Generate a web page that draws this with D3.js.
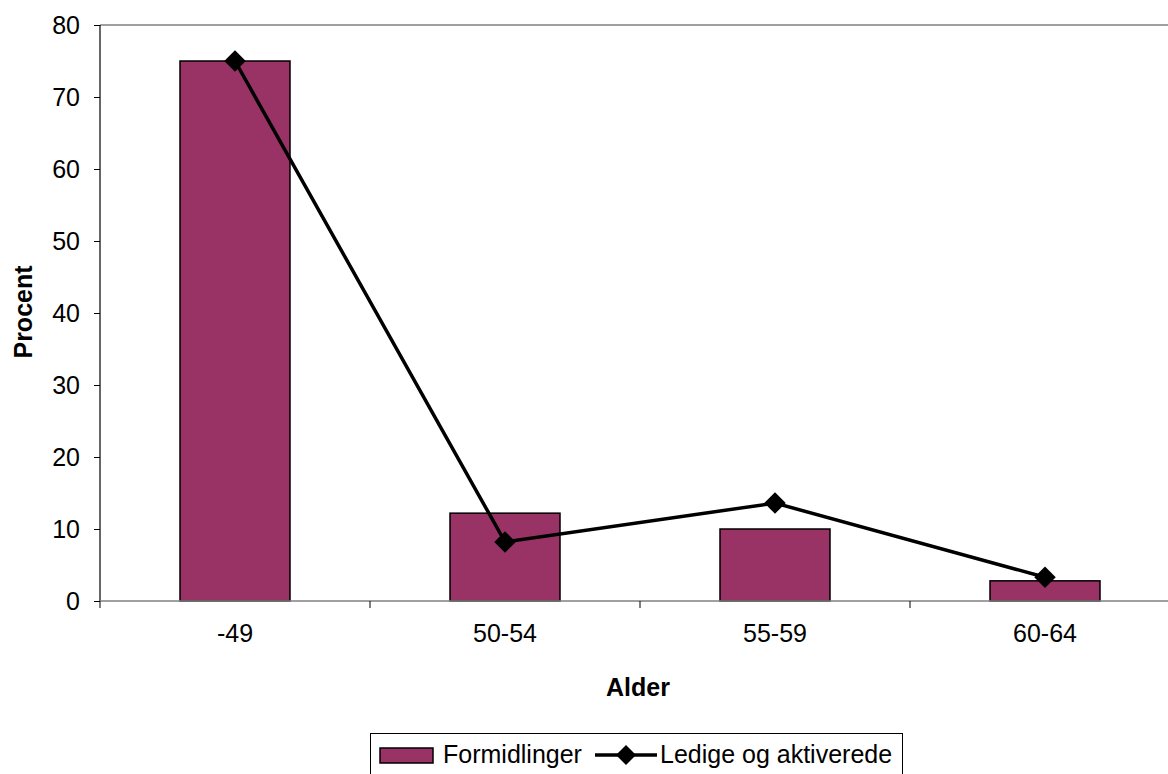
<!DOCTYPE html>
<html><head><meta charset="utf-8">
<script src="https://cdn.jsdelivr.net/npm/d3@7"></script>
<style>html,body{margin:0;padding:0;background:#fff;}svg{display:block;font-family:"Liberation Sans",Arial,sans-serif;}</style>
</head><body>
<svg id="c" width="1168" height="774"></svg>
<script>
const categories = ["-49", "50-54", "55-59", "60-64"];
const formidlinger = [75, 12.2, 10, 2.8];
const ledige = [75, 8.2, 13.6, 3.3];
const yTicks = [0, 10, 20, 30, 40, 50, 60, 70, 80];
const seriesNames = ["Formidlinger", "Ledige og aktiverede"];

(function () {
const FS = 25;
const svg = d3.select("#c");
const pL = 100, pR = 1180, pT = 25, pB = 601;
const xb = d3.scaleBand().domain(categories).range([pL, pR]);
const y = d3.scaleLinear().domain([0, 80]).range([pB, pT]);
const barW = 110, barOff = (xb.bandwidth() - barW) / 2;

// top border
svg.append("line").attr("x1", pL).attr("x2", 1168).attr("y1", pT).attr("y2", pT)
  .attr("stroke", "#808080").attr("stroke-width", 1.5);

// bars
svg.selectAll("rect.bar").data(categories).enter().append("rect")
  .attr("x", d => xb(d) + barOff).attr("width", barW)
  .attr("y", (d, i) => y(formidlinger[i]))
  .attr("height", (d, i) => pB - y(formidlinger[i]))
  .attr("fill", "#993366").attr("stroke", "#000").attr("stroke-width", 1.5);

// y axis
const yAxis = d3.axisLeft(y).tickValues(yTicks).tickSize(6).tickPadding(14);
const ya = svg.append("g").attr("transform", `translate(${pL},0)`).call(yAxis);
ya.select(".domain").attr("stroke", "#000").attr("stroke-width", 1.2).attr("d", `M0,${pT}V${pB}`);
ya.selectAll(".tick line").attr("stroke", "#000");
ya.selectAll("text").attr("font-size", FS).attr("fill", "#000").attr("font-family", "Liberation Sans, Arial, sans-serif");

// x axis
const xAxis = d3.axisBottom(xb).tickSize(0).tickPadding(23);
const xa = svg.append("g").attr("transform", `translate(0,${pB})`).call(xAxis);
xa.select(".domain").attr("stroke", "#808080").attr("stroke-width", 1.5).attr("d", `M${pL},0H1168`);
xa.selectAll("text").attr("font-size", FS).attr("fill", "#000").attr("font-family", "Liberation Sans, Arial, sans-serif");
svg.selectAll("line.xt").data(categories).enter().append("line")
  .attr("x1", d => xb(d)).attr("x2", d => xb(d))
  .attr("y1", pB).attr("y2", pB + 7).attr("stroke", "#000").attr("stroke-width", 1);

// line
const cx = d => xb(d) + xb.bandwidth() / 2;
const lineGen = d3.line().x((d, i) => cx(categories[i])).y(d => y(d));
svg.append("path").datum(ledige).attr("d", lineGen)
  .attr("fill", "none").attr("stroke", "#000").attr("stroke-width", 3.5);
svg.selectAll("path.mk").data(ledige).enter().append("path")
  .attr("transform", (d, i) => `translate(${cx(categories[i])},${y(d)}) rotate(45)`)
  .attr("d", d3.symbol().type(d3.symbolSquare).size(230)).attr("fill", "#000");

// axis titles
svg.append("text").attr("x", 638).attr("y", 696).attr("text-anchor", "middle")
  .attr("font-size", FS).attr("font-weight", "bold").text("Alder");
svg.append("text").attr("transform", "translate(32,312) rotate(-90)").attr("text-anchor", "middle")
  .attr("font-size", FS).attr("font-weight", "bold").text("Procent");

// legend
const lg = svg.append("g");
lg.append("rect").attr("x", 370.5).attr("y", 733.5).attr("width", 532).attr("height", 50)
  .attr("fill", "#fff").attr("stroke", "#000").attr("stroke-width", 1);
lg.append("rect").attr("x", 380).attr("y", 748).attr("width", 53).attr("height", 15)
  .attr("fill", "#993366").attr("stroke", "#000").attr("stroke-width", 1.5);
lg.append("text").attr("x", 443).attr("y", 763).attr("font-size", FS).text(seriesNames[0]);
lg.append("line").attr("x1", 595).attr("x2", 657).attr("y1", 755).attr("y2", 755)
  .attr("stroke", "#000").attr("stroke-width", 3.5);
lg.append("path").attr("transform", "translate(626,755) rotate(45)")
  .attr("d", d3.symbol().type(d3.symbolSquare).size(200)).attr("fill", "#000");
lg.append("text").attr("x", 660).attr("y", 763).attr("font-size", FS).text(seriesNames[1]);
})();
</script>
</body></html>
